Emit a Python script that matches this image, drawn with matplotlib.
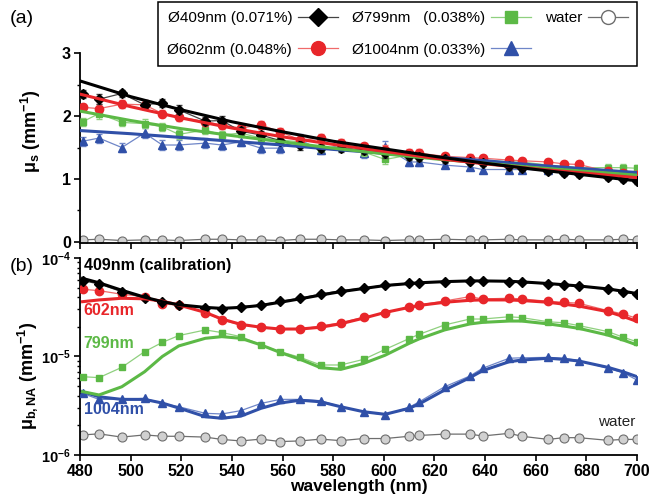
import numpy as np
import matplotlib
matplotlib.use('Agg')
import matplotlib.pyplot as plt
from matplotlib.lines import Line2D
from matplotlib.ticker import MultipleLocator, FuncFormatter, NullFormatter, LogLocator

plt.rcParams['font.family'] = ['Liberation Sans', 'DejaVu Sans']
plt.rcParams['mathtext.fontset'] = 'custom'
plt.rcParams['mathtext.rm'] = 'Liberation Sans'
plt.rcParams['mathtext.bf'] = 'Liberation Sans:bold'
plt.rcParams['mathtext.it'] = 'Liberation Sans:italic'

# measurement wavelengths (nm)
wl = [481, 487.5, 496.5, 505.5, 512.5, 519, 529.5, 536, 543.5, 551.5, 559, 567, 575, 583,
      592, 600.5, 610, 614, 624, 634, 639, 649.5, 654.5, 665, 671, 677, 688.5, 694.5, 700]

# (a) scattering coefficient mu_s (1/mm)
mus_409 = [2.35, 2.27, 2.36, 2.18, 2.21, 2.10, 1.92, 1.93, 1.76, 1.70, 1.61, 1.54, 1.49, 1.49,
           1.46, 1.42, 1.36, 1.35, 1.31, 1.27, 1.25, 1.20, 1.18, 1.13, 1.10, 1.08, 1.03, 1.00, 0.97]
mus_602 = [2.14, 2.12, 2.19, 2.18, 2.04, 1.99, 1.91, 1.86, 1.81, 1.86, 1.75, 1.62, 1.65, 1.57,
           1.52, 1.46, 1.41, 1.41, 1.36, 1.34, 1.33, 1.30, 1.29, 1.27, 1.24, 1.23, 1.12, 1.10, 1.07]
mus_799 = [1.91, 2.04, 1.90, 1.88, 1.83, 1.71, 1.78, 1.70, 1.73, 1.65, 1.62, 1.59, 1.49, 1.51,
           1.43, 1.31, 1.38, 1.36, 1.33, 1.31, 1.30, 1.27, 1.27, 1.22, 1.20, 1.18, 1.18, 1.18, 1.17]
mus_1004 = [1.60, 1.65, 1.50, 1.73, 1.54, 1.54, 1.57, 1.54, 1.59, 1.49, 1.49, 1.62, 1.46, 1.54,
            1.41, 1.51, 1.27, 1.27, 1.22, 1.19, 1.15, 1.15, 1.15, 1.14, 1.14, 1.13, 1.13, 1.12, 1.12]
mus_water = [0.03, 0.04, 0.02, 0.03, 0.03, 0.02, 0.04, 0.04, 0.03, 0.03, 0.02, 0.04, 0.04, 0.03,
             0.03, 0.02, 0.03, 0.03, 0.04, 0.03, 0.03, 0.04, 0.03, 0.03, 0.04, 0.03, 0.03, 0.04, 0.03]
mus_err = [0.06, 0.08, 0.06, 0.07, 0.06, 0.07, 0.06, 0.07, 0.06, 0.06, 0.06, 0.08, 0.06, 0.06,
           0.06, 0.08, 0.06, 0.06, 0.05, 0.05, 0.05, 0.05, 0.05, 0.05, 0.05, 0.05, 0.05, 0.05, 0.05]
mus_err_1004 = [0.07, 0.07, 0.07, 0.08, 0.08, 0.08, 0.08, 0.08, 0.07, 0.07, 0.07, 0.10, 0.07, 0.08,
                0.07, 0.09, 0.06, 0.06, 0.05, 0.05, 0.05, 0.05, 0.05, 0.05, 0.05, 0.05, 0.05, 0.05, 0.05]
mus_err_water = [0.02] * len(wl)

# (a) fitted curves
fit_wl = [480, 500, 520, 540, 560, 580, 600, 620, 640, 660, 680, 700]
fit_409 = [2.56, 2.31, 2.10, 1.91, 1.75, 1.60, 1.48, 1.36, 1.25, 1.15, 1.06, 0.97]
fit_602 = [2.35, 2.15, 1.97, 1.81, 1.67, 1.55, 1.44, 1.33, 1.24, 1.16, 1.09, 1.02]
fit_799 = [2.08, 1.93, 1.80, 1.69, 1.59, 1.49, 1.40, 1.32, 1.25, 1.18, 1.12, 1.06]
fit_1004 = [1.77, 1.72, 1.66, 1.60, 1.54, 1.47, 1.41, 1.35, 1.29, 1.22, 1.16, 1.10]

# (b) mu_b,NA (1/mm), log scale
mub_409 = [5.89e-5, 5.45e-5, 4.55e-5, 3.90e-5, 3.55e-5, 3.33e-5, 3.13e-5, 3.03e-5, 3.20e-5, 3.33e-5,
           3.63e-5, 3.90e-5, 4.30e-5, 4.66e-5, 4.92e-5, 5.32e-5, 5.53e-5, 5.62e-5, 5.75e-5, 5.89e-5,
           5.85e-5, 5.75e-5, 5.66e-5, 5.45e-5, 5.32e-5, 5.20e-5, 4.81e-5, 4.55e-5, 4.31e-5]
mub_602 = [4.81e-5, 4.66e-5, 4.28e-5, 4.05e-5, 3.41e-5, 3.33e-5, 2.79e-5, 2.35e-5, 2.09e-5, 1.98e-5,
           1.89e-5, 1.89e-5, 2.04e-5, 2.20e-5, 2.50e-5, 2.75e-5, 3.20e-5, 3.33e-5, 3.66e-5, 4.05e-5,
           3.84e-5, 3.90e-5, 3.84e-5, 3.63e-5, 3.55e-5, 3.47e-5, 2.92e-5, 2.70e-5, 2.44e-5]
mub_799 = [6.24e-6, 6.10e-6, 7.76e-6, 1.12e-5, 1.39e-5, 1.63e-5, 1.86e-5, 1.75e-5, 1.59e-5, 1.31e-5,
           1.12e-5, 9.80e-6, 8.20e-6, 8.20e-6, 9.35e-6, 1.18e-5, 1.52e-5, 1.68e-5, 2.09e-5, 2.40e-5,
           2.40e-5, 2.53e-5, 2.48e-5, 2.25e-5, 2.20e-5, 2.06e-5, 1.79e-5, 1.57e-5, 1.41e-5]
mub_1004 = [4.22e-6, 3.67e-6, 3.67e-6, 3.76e-6, 3.34e-6, 3.09e-6, 2.65e-6, 2.61e-6, 2.82e-6, 3.34e-6,
            3.67e-6, 3.67e-6, 3.56e-6, 3.09e-6, 2.75e-6, 2.55e-6, 3.05e-6, 3.47e-6, 4.93e-6, 6.34e-6,
            7.59e-6, 9.60e-6, 9.70e-6, 9.80e-6, 9.60e-6, 9.10e-6, 7.59e-6, 6.86e-6, 5.77e-6]
mub_water = [1.60e-6, 1.64e-6, 1.52e-6, 1.60e-6, 1.55e-6, 1.55e-6, 1.52e-6, 1.44e-6, 1.39e-6, 1.45e-6,
             1.37e-6, 1.39e-6, 1.45e-6, 1.40e-6, 1.47e-6, 1.47e-6, 1.55e-6, 1.58e-6, 1.63e-6, 1.63e-6,
             1.56e-6, 1.66e-6, 1.55e-6, 1.44e-6, 1.50e-6, 1.50e-6, 1.41e-6, 1.44e-6, 1.44e-6]

# (b) fitted curves
mubfit_409 = [6.20e-5, 5.60e-5, 4.70e-5, 4.00e-5, 3.60e-5, 3.35e-5, 3.15e-5, 3.08e-5, 3.15e-5, 3.30e-5,
              3.55e-5, 3.85e-5, 4.20e-5, 4.55e-5, 4.90e-5, 5.25e-5, 5.50e-5, 5.60e-5, 5.75e-5, 5.85e-5,
              5.85e-5, 5.80e-5, 5.72e-5, 5.50e-5, 5.35e-5, 5.20e-5, 4.85e-5, 4.60e-5, 4.35e-5]
mubfit_602 = [3.60e-5, 3.75e-5, 3.90e-5, 3.85e-5, 3.65e-5, 3.33e-5, 2.80e-5, 2.40e-5, 2.12e-5, 1.98e-5,
              1.90e-5, 1.90e-5, 1.98e-5, 2.15e-5, 2.45e-5, 2.80e-5, 3.15e-5, 3.30e-5, 3.55e-5, 3.72e-5,
              3.75e-5, 3.75e-5, 3.70e-5, 3.55e-5, 3.40e-5, 3.25e-5, 2.85e-5, 2.55e-5, 2.27e-5]
mubfit_799 = [4.40e-6, 4.07e-6, 4.93e-6, 7.00e-6, 1.00e-5, 1.28e-5, 1.53e-5, 1.59e-5, 1.53e-5, 1.31e-5,
              1.10e-5, 9.35e-6, 7.70e-6, 7.40e-6, 8.50e-6, 1.03e-5, 1.36e-5, 1.51e-5, 1.86e-5, 2.14e-5,
              2.22e-5, 2.29e-5, 2.29e-5, 2.14e-5, 2.04e-5, 1.93e-5, 1.65e-5, 1.47e-5, 1.31e-5]
mubfit_1004 = [4.40e-6, 3.90e-6, 3.67e-6, 3.67e-6, 3.37e-6, 3.00e-6, 2.45e-6, 2.36e-6, 2.48e-6, 2.98e-6,
               3.37e-6, 3.60e-6, 3.47e-6, 3.09e-6, 2.75e-6, 2.59e-6, 2.98e-6, 3.30e-6, 4.57e-6, 6.10e-6,
               7.18e-6, 8.85e-6, 9.20e-6, 9.60e-6, 9.35e-6, 9.00e-6, 7.76e-6, 7.00e-6, 6.24e-6]
mub_err_water = [0.06e-6] * len(wl)

labels = ['\u00d8409nm (0.071%)', '\u00d8602nm (0.048%)', '\u00d8799nm   (0.038%)',
          '\u00d81004nm (0.033%)', 'water']

black = '#000000'
red = '#e8262a'
green = '#5cb946'
blue = '#3050a8'
gray = '#6e6e6e'
light = {'409': '#444444', '602': '#f06a6a', '799': '#8fd07f', '1004': '#6f86c8'}


def style_axis(ax):
    '''Origin-like axis: only left and bottom spines, outward ticks'''
    for side in ['top', 'right']:
        ax.spines[side].set_visible(False)
    for side in ['left', 'bottom']:
        ax.spines[side].set_linewidth(1.3)
    ax.tick_params(which='major', direction='out', length=4, width=1.2, labelsize=11.5, pad=2.5)
    ax.tick_params(which='minor', direction='out', length=2.5, width=1.0)
    for lab in ax.get_xticklabels() + ax.get_yticklabels():
        lab.set_fontweight('bold')


fig = plt.figure(figsize=(6.49, 4.98), dpi=100)
ax1 = fig.add_axes([0.1233, 0.512, 0.8582, 0.381])
ax2 = fig.add_axes([0.1233, 0.0863, 0.8582, 0.3957])

# ---- (a) mu_s ----
series_a = [
    (mus_409, mus_err, fit_409, black, light['409'], 'D', 5.5),
    (mus_602, mus_err, fit_602, red, light['602'], 'o', 6),
    (mus_799, mus_err, fit_799, green, light['799'], 's', 5),
    (mus_1004, mus_err_1004, fit_1004, blue, light['1004'], '^', 6),
]
ax1.errorbar(wl, mus_water, yerr=mus_err_water, color=gray, lw=0.9, marker='o', ms=6.5,
             mfc='#d0d0d0', mec=gray, mew=0.8, capsize=1.5, elinewidth=0.7, zorder=2)
for i, (y, e, f, c, lc, m, ms) in enumerate(series_a[::-1]):
    ax1.errorbar(wl, y, yerr=e, color=lc, lw=0.9, marker=m, ms=ms, mfc=c, mec=c,
                 ecolor=lc, capsize=2, elinewidth=0.8, zorder=3 + i)
    ax1.plot(fit_wl, f, color=c, lw=2.2, zorder=8 + i)

ax1.set_xlim(480, 700)
ax1.set_ylim(-0.02, 3.0)
ax1.xaxis.set_major_locator(MultipleLocator(20))
ax1.yaxis.set_major_locator(MultipleLocator(1))
ax1.yaxis.set_minor_locator(MultipleLocator(0.5))
ax1.set_xticklabels([])
style_axis(ax1)
ax1.set_ylabel(r'$\mathbf{\mu_s\ (mm^{-1})}$', fontsize=13)
ax1.yaxis.set_label_coords(-0.066, 0.59)

# ---- (b) mu_b,NA ----
series_b = [
    (mub_409, mubfit_409, black, light['409'], 'D', 5.5),
    (mub_602, mubfit_602, red, light['602'], 'o', 6),
    (mub_799, mubfit_799, green, light['799'], 's', 5),
    (mub_1004, mubfit_1004, blue, light['1004'], '^', 6),
]
ax2.errorbar(wl, mub_water, yerr=mub_err_water, color=gray, lw=0.9, marker='o', ms=6.5,
             mfc='#d0d0d0', mec=gray, mew=0.8, capsize=1.5, elinewidth=0.7, zorder=2)
for i, (y, f, c, lc, m, ms) in enumerate(series_b[::-1]):
    ax2.plot(wl, y, color=lc, lw=0.9, marker=m, ms=ms, mfc=c, mec=c, zorder=3 + i)
    ax2.plot(wl, f, color=c, lw=2.2, zorder=8 + i)

ax2.set_xlim(480, 700)
ax2.set_yscale('log')
ax2.set_ylim(1e-6, 1e-4)
ax2.xaxis.set_major_locator(MultipleLocator(20))
ax2.yaxis.set_major_locator(LogLocator(base=10))
ax2.yaxis.set_minor_locator(LogLocator(base=10, subs=np.arange(2, 10)))
ax2.yaxis.set_major_formatter(FuncFormatter(lambda v, p: r'$\mathbf{10^{%d}}$' % round(np.log10(v))))
ax2.yaxis.set_minor_formatter(NullFormatter())
style_axis(ax2)
ax2.tick_params(axis='y', which='major', labelsize=10.5)
ax2.set_xlabel('wavelength (nm)', fontsize=12.5, fontweight='bold', labelpad=0)
ax2.set_ylabel(r'$\mathbf{\mu_{b,NA}\ (mm^{-1})}$', fontsize=13)
ax2.yaxis.set_label_coords(-0.072, 0.40)

# curve labels
ax2.text(481.5, 8.3e-5, '409nm (calibration)', color=black, fontsize=11.5, fontweight='bold', va='center')
ax2.text(481.5, 2.96e-5, '602nm', color=red, fontsize=11.5, fontweight='bold', va='center')
ax2.text(481.5, 1.36e-5, '799nm', color=green, fontsize=11.5, fontweight='bold', va='center')
ax2.text(481.5, 2.91e-6, '1004nm', color=blue, fontsize=11.5, fontweight='bold', va='center')
ax2.text(699.5, 2.18e-6, 'water', color='#222222', fontsize=11, ha='right', va='center')

# panel letters
fig.text(0.015, 0.963, '(a)', fontsize=14, va='center')
fig.text(0.015, 0.464, '(b)', fontsize=14, va='center')

# legend
handles = [
    Line2D([], [], color=light['409'], lw=0.9, marker='D', ms=9, mfc=black, mec=black),
    Line2D([], [], color=light['602'], lw=0.9, marker='o', ms=10, mfc=red, mec=red),
    Line2D([], [], color=light['799'], lw=0.9, marker='s', ms=8.5, mfc=green, mec=green),
    Line2D([], [], color=light['1004'], lw=0.9, marker='^', ms=10, mfc=blue, mec=blue),
    Line2D([], [], color=gray, lw=0.9, marker='o', ms=10, mfc='white', mec=gray),
]
leg = fig.legend(handles, labels, ncol=3, loc='upper right', bbox_to_anchor=(0.9815, 0.996),
                 borderaxespad=0, fontsize=11, markerfirst=False, handlelength=2.6,
                 handletextpad=0.4, columnspacing=0.9, labelspacing=1.15, borderpad=0.6,
                 fancybox=False, framealpha=1)
leg.get_frame().set_edgecolor('black')
leg.get_frame().set_linewidth(1.1)

plt.savefig('out.png', dpi=100)
